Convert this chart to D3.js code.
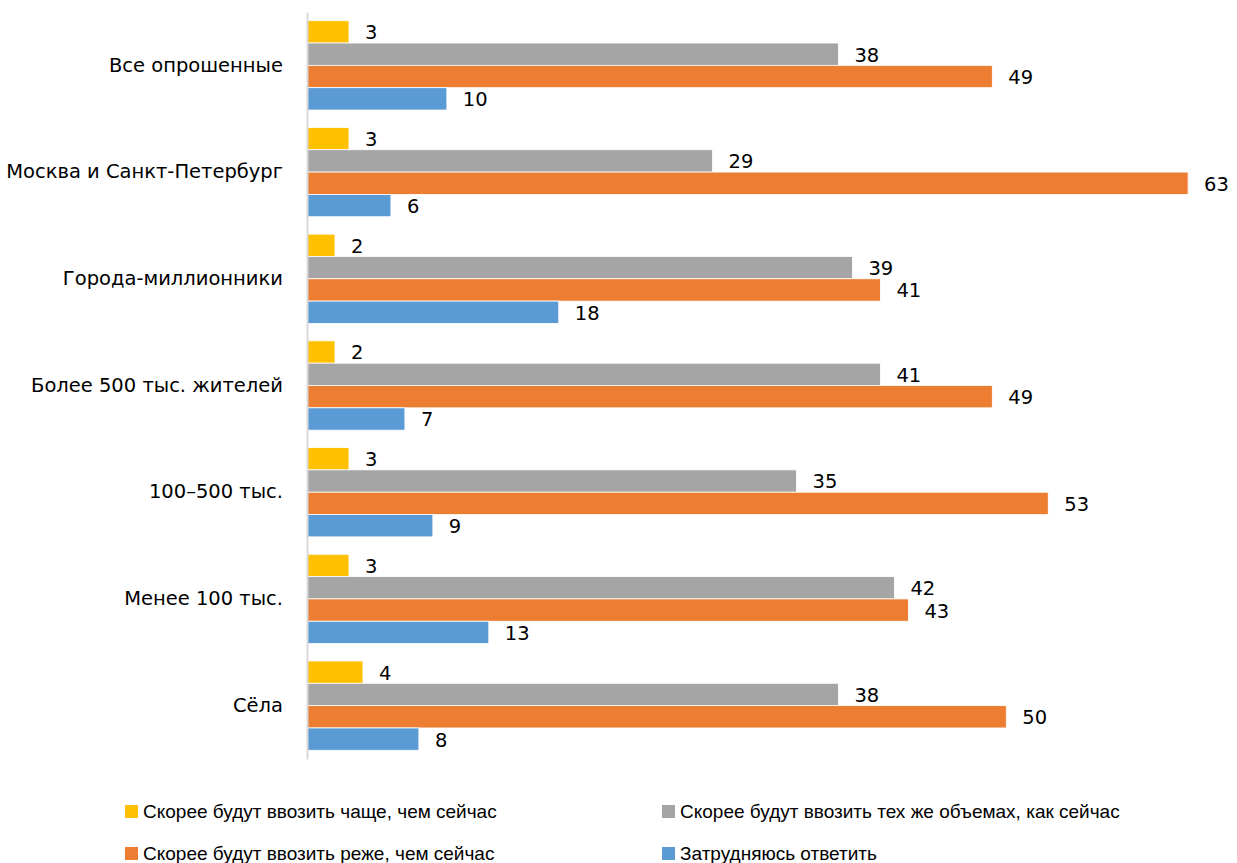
<!DOCTYPE html>
<html lang="ru">
<head>
<meta charset="utf-8">
<script type="text/javascript" src="https://cdnjs.cloudflare.com/ajax/libs/d3/7.8.5/d3.min.js"></script>
<style>
    body { margin: 0; background: #fff; }
    text { fill: #000; }
</style>
</head>
<body>
<div id="container"></div>
<script type="text/javascript">
    var w = 1237;
    var h = 863;

    var categories = ["Все опрошенные", "Москва и Санкт-Петербург", "Города-миллионники",
        "Более 500 тыс. жителей", "100–500 тыс.", "Менее 100 тыс.", "Сёла"];
    var seriesNames = ["Скорее будут ввозить чаще, чем сейчас",
        "Скорее будут ввозить тех же объемах, как сейчас",
        "Скорее будут ввозить реже, чем сейчас",
        "Затрудняюсь ответить"];
    var seriesColors = ["#FFC000", "#A5A5A5", "#ED7D31", "#5B9BD5"];

    var oftener = [3, 3, 2, 2, 3, 3, 4];
    var same = [38, 29, 39, 41, 35, 42, 38];
    var rarer = [49, 63, 41, 49, 53, 43, 50];
    var unsure = [10, 6, 18, 7, 9, 13, 8];
    var series = [oftener, same, rarer, unsure];

    var plotLeft = 307, plotTop = 12, plotH = 747;

    var svg = d3.select("#container")
                .append("svg")
                .attr("width", w)
                .attr("height", h);

    var x = d3.scaleLinear()
              .domain([0, 70])
              .range([plotLeft, plotLeft + 979]);

    var y0 = d3.scaleBand()
               .domain(categories)
               .range([plotTop, plotTop + plotH])
               .paddingInner(0.163)
               .paddingOuter(0.0815);

    var y1 = d3.scaleBand()
               .domain(d3.range(series.length))
               .range([0, y0.bandwidth()]);

    var groups = svg.selectAll("g.cat")
                    .data(categories)
                    .enter()
                    .append("g")
                    .attr("class", "cat")
                    .attr("transform", function(d) { return "translate(0," + y0(d) + ")"; });

    function rowData(d, i) {
        return series.map(function(s, k) { return { k: k, v: s[i] }; });
    }

    groups.selectAll("rect")
          .data(rowData)
          .enter()
          .append("rect")
          .attr("x", x(0))
          .attr("y", function(d) { return y1(d.k); })
          .attr("width", function(d) { return x(d.v) - x(0); })
          .attr("height", y1.bandwidth())
          .attr("fill", function(d) { return seriesColors[d.k]; })
          .attr("stroke", "#fff")
          .attr("stroke-width", 0.8);

    groups.selectAll("text.val")
          .data(rowData)
          .enter()
          .append("text")
          .attr("class", "val")
          .attr("x", function(d) { return x(d.v) + 16; })
          .attr("y", function(d) { return y1(d.k) + y1.bandwidth() / 2; })
          .attr("dy", "0.38em")
          .style("font-size", "19.5px")
          .style("font-family", "'DejaVu Sans', sans-serif")
          .text(function(d) { return d.v; });

    // category axis
    var yAxis = d3.axisLeft(y0).tickSize(0).tickPadding(24);
    var ax = svg.append("g")
                .attr("transform", "translate(" + plotLeft + ",0)")
                .call(yAxis);
    ax.select(".domain").attr("stroke", "#D9D9D9").attr("stroke-width", 2);
    ax.selectAll("text")
      .style("font-size", "19.5px")
      .style("font-family", "'DejaVu Sans', sans-serif")
      .attr("fill", "#000");

    // legend
    var legendPos = [[125, 811], [662, 811], [125, 853], [662, 853]];
    var legend = svg.selectAll("g.legend")
                    .data(seriesNames)
                    .enter()
                    .append("g")
                    .attr("class", "legend")
                    .attr("transform", function(d, i) {
                        return "translate(" + legendPos[i][0] + "," + legendPos[i][1] + ")";
                    });
    legend.append("rect")
          .attr("x", 0)
          .attr("y", -6)
          .attr("width", 13)
          .attr("height", 13)
          .attr("fill", function(d, i) { return seriesColors[i]; });
    legend.append("text")
          .attr("x", 18)
          .attr("dy", "0.36em")
          .style("font-size", "19px")
          .style("font-family", "'Liberation Sans', Arial, sans-serif")
          .text(function(d) { return d; });
</script>
</body>
</html>
